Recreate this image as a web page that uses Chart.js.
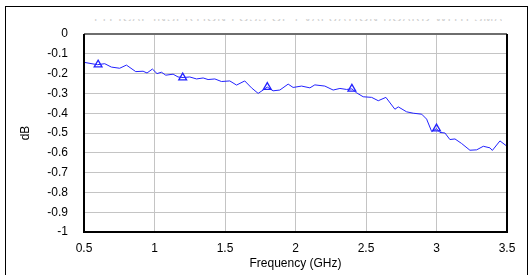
<!DOCTYPE html>
<html>
<head>
<meta charset="utf-8">
<script src="https://cdn.jsdelivr.net/npm/chart.js@4.4.0/dist/chart.umd.min.js"></script>
<style>
  html, body { margin: 0; padding: 0; background: #fff; }
  #wrap { position: relative; width: 532px; height: 275px; overflow: hidden; }
  #frame { position: absolute; left: 5px; top: 6px; width: 523px; height: 280px; border: 1px solid #000; box-sizing: border-box; }
  #ttl { position: absolute; left: 92px; top: 19px; width: 410px; height: 2px; overflow: hidden; }
  #ttl span { position: absolute; left: 0; bottom: -3px; font: 12px "Liberation Sans", Arial, sans-serif; color: #d0d0d0; white-space: nowrap; line-height: 12px; letter-spacing: 1px; }
  canvas { position: absolute; left: 0; top: 0; }
</style>
</head>
<body>
<div id="wrap">
  <div id="frame"></div>
  <div id="ttl"><span>TYPICAL INSERTION LOSS OF EVALUATION BOARD WITH SMA CONNECTORS</span></div>
  <canvas id="c" width="532" height="275"></canvas>
</div>
<script>
const freq = [0.5, 0.595, 0.647, 0.694, 0.753, 0.801, 0.867, 0.919, 0.947, 0.985, 1.018, 1.049, 1.08, 1.132, 1.167, 1.203, 1.25, 1.298, 1.345, 1.38, 1.428, 1.475, 1.534, 1.582, 1.64, 1.688, 1.735, 1.77, 1.8, 1.841, 1.889, 1.948, 1.983, 2.043, 2.102, 2.137, 2.208, 2.267, 2.315, 2.362, 2.4, 2.433, 2.48, 2.54, 2.587, 2.641, 2.705, 2.729, 2.788, 2.835, 2.895, 2.93, 2.966, 3.0, 3.024, 3.06, 3.095, 3.131, 3.178, 3.237, 3.285, 3.332, 3.379, 3.396, 3.45, 3.5];
const loss = [-0.143, -0.155, -0.15, -0.167, -0.173, -0.157, -0.19, -0.188, -0.197, -0.177, -0.2, -0.193, -0.208, -0.203, -0.217, -0.22, -0.217, -0.227, -0.222, -0.23, -0.227, -0.24, -0.237, -0.258, -0.237, -0.272, -0.3, -0.283, -0.268, -0.287, -0.283, -0.253, -0.27, -0.263, -0.272, -0.257, -0.263, -0.283, -0.275, -0.28, -0.277, -0.297, -0.317, -0.32, -0.337, -0.32, -0.38, -0.368, -0.393, -0.4, -0.405, -0.43, -0.493, -0.478, -0.497, -0.5, -0.533, -0.53, -0.553, -0.587, -0.585, -0.567, -0.575, -0.588, -0.54, -0.567];
const markerFreq = [0.6, 1.2, 1.8, 2.4, 3.0];
const markerLoss = [-0.155, -0.22, -0.268, -0.277, -0.478];
const xTicks = [0.5, 1, 1.5, 2, 2.5, 3, 3.5];
const xTitle = 'Frequency (GHz)';
const yTitle = 'dB';

const BLUE = '#2222ff';
const FONT = { family: '"Liberation Sans", Arial, sans-serif', size: 12 };

const borderPlugin = {
  id: 'plotBorder',
  afterDraw(chart) {
    const a = chart.chartArea, ctx = chart.ctx;
    ctx.save();
    ctx.lineWidth = 2;
    ctx.strokeStyle = '#6e6e6e';
    ctx.beginPath(); ctx.moveTo(a.left, a.top); ctx.lineTo(a.right, a.top); ctx.stroke();
    ctx.strokeStyle = '#000';
    ctx.beginPath();
    ctx.moveTo(a.left, a.top); ctx.lineTo(a.left, a.bottom); ctx.lineTo(a.right, a.bottom); ctx.lineTo(a.right, a.top);
    ctx.stroke();
    ctx.restore();
  }
};

new Chart(document.getElementById('c'), {
  type: 'scatter',
  data: {
    datasets: [
      {
        data: freq.map((f, i) => ({ x: f, y: loss[i] })),
        showLine: true,
        borderColor: BLUE,
        borderWidth: 1,
        pointRadius: 0,
        tension: 0
      },
      {
        data: markerFreq.map((f, i) => ({ x: f, y: markerLoss[i] })),
        showLine: false,
        pointStyle: 'triangle',
        pointRadius: 4.5,
        borderColor: BLUE,
        borderWidth: 1.3,
        backgroundColor: 'rgba(0,0,0,0)'
      }
    ]
  },
  options: {
    responsive: false,
    animation: false,
    layout: { padding: { left: 0, top: 34, right: 25, bottom: 0 } },
    plugins: { legend: { display: false }, tooltip: { enabled: false } },
    scales: {
      x: {
        type: 'linear', min: 0.5, max: 3.5,
        afterBuildTicks(s) { s.ticks = xTicks.map(v => ({ value: v })); },
        afterFit(s) { s.height = 43; },
        grid: { color: '#c4c4c4', drawTicks: false, lineWidth: 1 },
        border: { display: false },
        ticks: { color: '#000', font: FONT, padding: 9, maxRotation: 0, callback: v => String(v) },
        title: { display: true, text: xTitle, color: '#000', font: FONT, padding: { top: 0, bottom: 4 } }
      },
      y: {
        type: 'linear', min: -1, max: 0,
        ticks: { stepSize: 0.1, color: '#000', font: FONT, padding: 16, callback: v => String(Number(v.toFixed(1))) },
        afterFit(s) { s.width = 84; },
        grid: { color: '#c4c4c4', drawTicks: false, lineWidth: 1 },
        border: { display: false },
        title: { display: true, text: yTitle, color: '#000', font: FONT, padding: { top: 18, bottom: 0 } }
      }
    }
  },
  plugins: [borderPlugin]
});
</script>
</body>
</html>
